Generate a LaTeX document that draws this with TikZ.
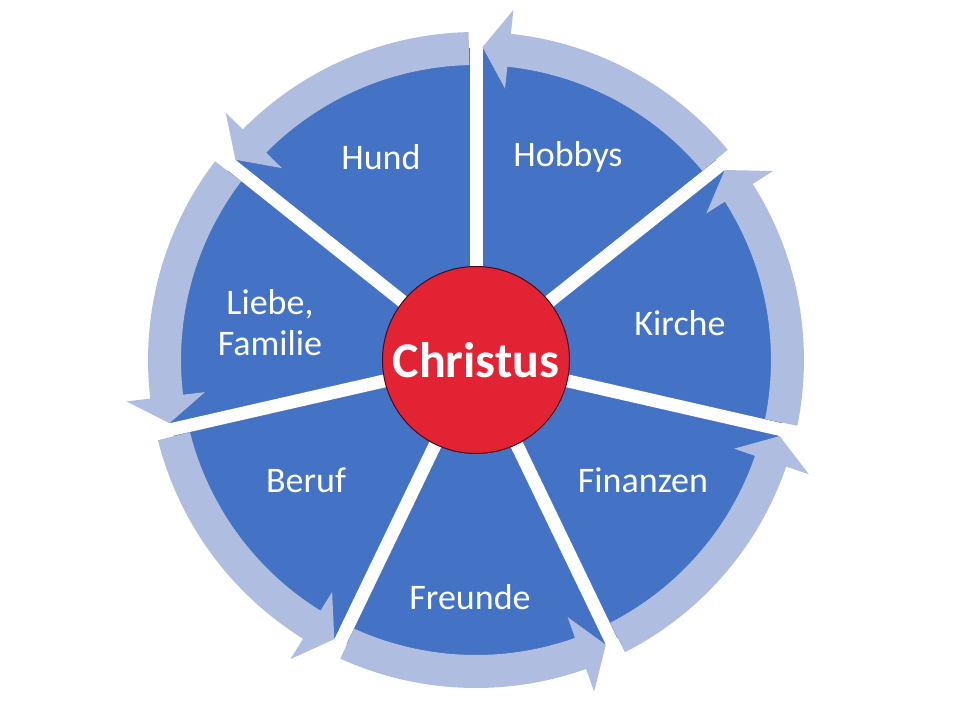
\documentclass[tikz,border=0pt]{standalone}
\usepackage{fontspec}
\setmainfont{Carlito}
\definecolor{wedgec}{RGB}{68,114,196}
\definecolor{ringc}{RGB}{175,189,225}
\definecolor{christc}{RGB}{226,35,52}
\definecolor{rimc}{RGB}{70,10,25}
\tikzset{
  wedge/.style={fill=wedgec},
  ringarrow/.style={fill=ringc},
  gapline/.style={white,line width=13pt},
  lbl/.style={text=white,font=\fontsize{36}{41}\selectfont,align=center,inner sep=0pt},
  christ/.style={circle,fill=christc,draw=rimc,line width=1pt,minimum size=187pt,inner sep=0pt,
    text=white,font=\fontsize{50}{60}\selectfont\bfseries},
}

\begin{document}
\begin{tikzpicture}[x=1pt,y=1pt]
  \useasboundingbox (-476,-360) rectangle (484,360);
  % blue disc, cut into seven parts by the gaps
  \fill[wedge] (0,0) circle[radius=312pt];
  \foreach \k in {0,...,6}
    \draw[gapline] (0,0) -- (90-\k*360/7:318);
  % ring of arrows, counter-clockwise
  \foreach \k in {0,...,6}{
    \pgfmathsetmacro\tip{90-\k*360/7-1.2}
    \pgfmathsetmacro\hb{\tip-4.9}
    \pgfmathsetmacro\tl{90-(\k+1)*360/7+1.3}
    \fill[ringarrow] (\tl:295) arc[start angle=\tl,end angle=\hb,radius=295pt]
      -- (\hb:273) -- (\tip:313) -- (\hb:352) -- (\hb:328)
      arc[start angle=\hb,end angle=\tl,radius=328pt] -- cycle;
  }
  \node[christ] (christus) at (0,0) {Christus};
  \node[lbl] (hobbys) at (92,203) {Hobbys};
  \node[lbl] (hund) at (-95,203) {Hund};
  \node[lbl] (kirche) at (204,37) {Kirche};
  \node[lbl] (finanzen) at (167,-120) {Finanzen};
  \node[lbl] (freunde) at (-6,-237) {Freunde};
  \node[lbl] (beruf) at (-170,-120) {Beruf};
  \node[lbl] (familie) at (-206,37) {Liebe,\\Familie};
\end{tikzpicture}
\end{document}
